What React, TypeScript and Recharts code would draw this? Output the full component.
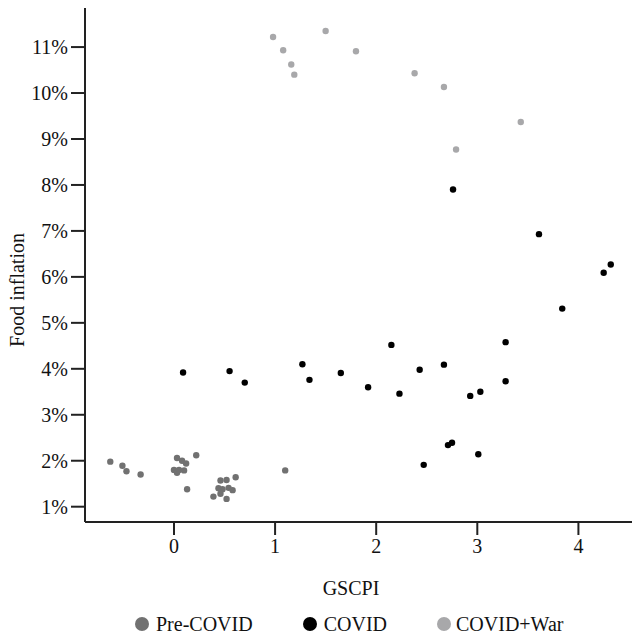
import React from 'react';
import { Legend, Scatter, ScatterChart, XAxis, YAxis } from 'recharts';

// GSCPI (x) vs food inflation in % (y)
const preCovidX = [-0.63, -0.51, -0.47, -0.33, 0.03, 0.08, 0.12, 0.22, 0.0, 0.03, 0.05, 0.1, 0.13, 1.1, 0.46, 0.52, 0.61, 0.44, 0.48, 0.54, 0.58, 0.39, 0.46, 0.52];
const preCovidY = [1.98, 1.89, 1.77, 1.7, 2.06, 2.0, 1.94, 2.12, 1.8, 1.74, 1.8, 1.79, 1.38, 1.79, 1.57, 1.58, 1.64, 1.4, 1.38, 1.41, 1.36, 1.22, 1.28, 1.17];

const covidX = [0.09, 0.55, 0.7, 1.27, 1.34, 1.65, 1.92, 2.15, 2.23, 2.43, 2.67, 2.93, 3.03, 3.28, 3.28, 3.84, 2.71, 2.75, 3.01, 2.47, 2.76, 3.61, 4.32, 4.25];
const covidY = [3.92, 3.95, 3.7, 4.1, 3.76, 3.91, 3.6, 4.52, 3.46, 3.98, 4.09, 3.41, 3.5, 4.58, 3.73, 5.31, 2.34, 2.39, 2.14, 1.91, 7.9, 6.93, 6.27, 6.09];

const warX = [0.98, 1.08, 1.16, 1.19, 1.5, 1.8, 2.38, 2.67, 3.43, 2.79];
const warY = [11.22, 10.93, 10.62, 10.4, 11.35, 10.91, 10.43, 10.13, 9.37, 8.77];

const xTicks = [0, 1, 2, 3, 4];
const yTicks = [1, 2, 3, 4, 5, 6, 7, 8, 9, 10, 11];

const series = [
  { name: 'Pre-COVID', xs: preCovidX, ys: preCovidY, color: '#717171' },
  { name: 'COVID', xs: covidX, ys: covidY, color: '#000000' },
  { name: 'COVID+War', xs: warX, ys: warY, color: '#a8a8aa' },
];

const toPoints = (xs: number[], ys: number[]) => xs.map((x, i) => ({ x, y: ys[i] }));

const FONT = "'Liberation Serif', 'Times New Roman', serif";
const TEXT = '#111';

const Dot = (props: any) => {
  const { cx, cy, fill } = props;
  return <circle cx={cx} cy={cy} r={3.2} fill={fill} />;
};

const LegendContent = () => (
  <div
    style={{
      display: 'flex',
      alignItems: 'center',
      paddingLeft: 135,
      paddingTop: 4,
      boxSizing: 'border-box',
      fontFamily: FONT,
      fontSize: 20,
      color: TEXT,
      height: 34,
    }}
  >
    {series.map((s, i) => (
      <div key={s.name} style={{ display: 'flex', alignItems: 'center', marginLeft: i === 0 ? 0 : 50 }}>
        <span
          style={{
            width: 14,
            height: 14,
            borderRadius: 7,
            background: s.color,
            display: 'inline-block',
            marginRight: i === 2 ? 5 : 7,
          }}
        />
        <span>{s.name}</span>
      </div>
    ))}
  </div>
);

export default function App() {
  return (
    <div style={{ position: 'absolute', left: 0, top: 0 }}>
      <ScatterChart width={633} height={639} margin={{ top: 8, right: 1, bottom: 0, left: 0 }}>
        <XAxis
          type="number"
          dataKey="x"
          domain={[-0.88, 4.53]}
          ticks={xTicks}
          allowDataOverflow
          height={83}
          tickSize={13}
          tickMargin={4}
          axisLine={{ stroke: '#222', strokeWidth: 2 }}
          tickLine={{ stroke: '#222', strokeWidth: 2 }}
          tick={{ fill: TEXT, fontSize: 20, fontFamily: FONT }}
          label={() => (
            <text x={351} y={595} textAnchor="middle" fill={TEXT} fontSize={20} fontFamily={FONT}>
              GSCPI
            </text>
          )}
        />
        <YAxis
          type="number"
          dataKey="y"
          domain={[0.667, 11.85]}
          ticks={yTicks}
          allowDataOverflow
          width={85}
          tickSize={14}
          tickMargin={3}
          tickFormatter={(v: number) => `${v}%`}
          axisLine={{ stroke: '#222', strokeWidth: 2 }}
          tickLine={{ stroke: '#222', strokeWidth: 2 }}
          tick={{ fill: TEXT, fontSize: 20, fontFamily: FONT }}
          label={() => (
            <text
              x={24}
              y={290}
              transform="rotate(-90 24 290)"
              textAnchor="middle"
              fill={TEXT}
              fontSize={20}
              fontFamily={FONT}
            >
              Food inflation
            </text>
          )}
        />
        <Legend
          verticalAlign="bottom"
          height={34}
          content={LegendContent}
          wrapperStyle={{ left: 0, width: 633 }}
        />
        {series.map((s) => (
          <Scatter
            key={s.name}
            name={s.name}
            data={toPoints(s.xs, s.ys)}
            fill={s.color}
            shape={Dot}
            isAnimationActive={false}
          />
        ))}
      </ScatterChart>
    </div>
  );
}
